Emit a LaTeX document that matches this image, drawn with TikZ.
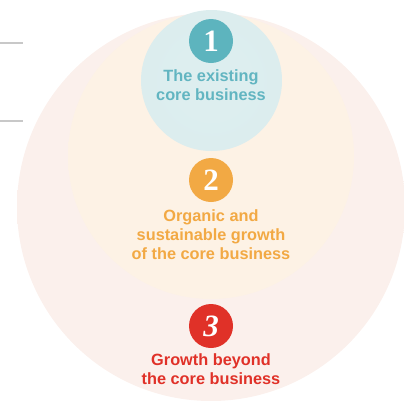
\documentclass[tikz,border=0pt]{standalone}
\usepackage{fontspec}
\setmainfont{Liberation Serif}
\newfontfamily\labelfont{Liberation Sans}
\usetikzlibrary{shadings}
\definecolor{tealc}{HTML}{5DB4BE}
\definecolor{tealtext}{HTML}{62B5C1}
\definecolor{orangec}{HTML}{F2A944}
\definecolor{redc}{HTML}{E03128}
\definecolor{rulec}{HTML}{C8C8C8}
% soft rims: flat centre, darker towards the edge (edge = 50bp)
\pgfdeclareradialshading{outerrim}{\pgfpoint{0bp}{0bp}}{%
  rgb(0bp)=(0.984,0.941,0.925); rgb(44.5bp)=(0.984,0.941,0.925);
  rgb(49.7bp)=(0.940,0.892,0.878); rgb(50bp)=(0.93,0.85,0.84); rgb(100bp)=(0.93,0.85,0.84)}
\pgfdeclareradialshading{midrim}{\pgfpoint{0bp}{0bp}}{%
  rgb(0bp)=(0.992,0.949,0.898); rgb(46bp)=(0.992,0.949,0.898);
  rgb(49.7bp)=(0.950,0.905,0.840); rgb(50bp)=(0.94,0.87,0.80); rgb(100bp)=(0.94,0.87,0.80)}
\pgfdeclareradialshading{corerim}{\pgfpoint{0bp}{0bp}}{%
  rgb(0bp)=(0.867,0.933,0.937); rgb(46bp)=(0.860,0.929,0.933);
  rgb(49.7bp)=(0.825,0.905,0.912); rgb(50bp)=(0.70,0.85,0.86); rgb(100bp)=(0.70,0.85,0.86)}
\tikzset{
  badge/.style={circle, minimum size=44pt, inner sep=0pt, text=white,
    font=\fontsize{31}{31}\selectfont\bfseries},
  caption/.style={align=center, anchor=north, inner sep=0pt,
    font=\labelfont\bfseries\fontsize{16.3}{19}\selectfont},
  sidebar/.style={draw=rulec, line width=1.2pt}
}
\begin{document}
\begin{tikzpicture}[x=1pt,y=-1pt]
\useasboundingbox (0,0) rectangle (404,400);
\begin{scope}
\clip (0,0) rectangle (404,400);
% outer ring: growth beyond the core
\shade[shading=outerrim] (211,207) circle[radius=194];
% middle disc: organic growth
\shade[shading=midrim] (211,156) circle[radius=143];
% inner disc: existing core
\shade[shading=corerim] (211.5,80.5) circle[radius=70.5];
\end{scope}
% side rules
\coordinate (r1a) at (0,43);  \coordinate (r1b) at (23,43);
\coordinate (r2a) at (0,121); \coordinate (r2b) at (23,121);
\draw[sidebar] (r1a) -- (r1b);
\draw[sidebar] (r2a) -- (r2b);
% badges and captions
\node[badge, fill=tealc] (b1) at (211,41) {1};
\node[caption, text=tealtext] (t1) at (211,69) {The existing\\core business};
\node[badge, fill=orangec] (b2) at (211,180) {2};
\node[caption, text=orangec] (t2) at (211,209) {Organic and\\sustainable growth\\of the core business};
\node[badge, fill=redc] (b3) at (211,326) {\itshape 3};
\node[caption, text=redc] (t3) at (211,353) {Growth beyond\\the core business};
\end{tikzpicture}
\end{document}
